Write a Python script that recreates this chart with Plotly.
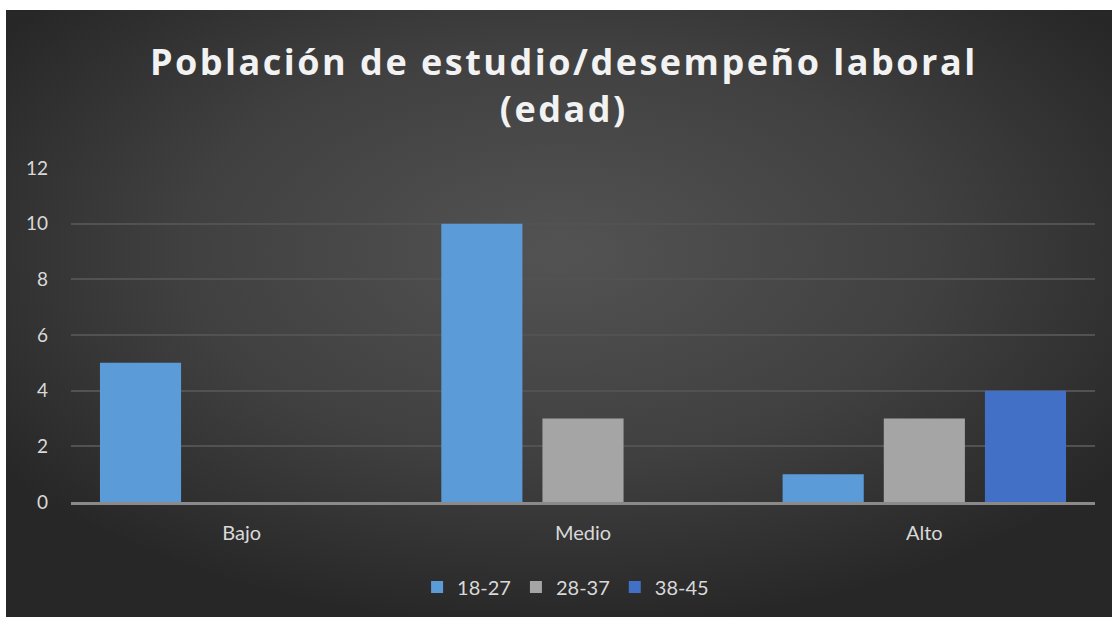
import base64
import plotly.graph_objects as go

categories = ["Bajo", "Medio", "Alto"]
series_names = ["18-27", "28-37", "38-45"]
values_18_27 = [5, 10, 1]
values_28_37 = [0, 3, 3]
values_38_45 = [0, 0, 4]
y_ticks = [0, 2, 4, 6, 8, 10, 12]

colors = ["#5b9bd8", "#a5a5a5", "#4270c6"]
series_values = [values_18_27, values_28_37, values_38_45]

W, H = 1112, 617
L, R, T, B = 71, 17, 168, 115
pw, ph = W - L - R, H - T - B

svg = f'''<svg xmlns="http://www.w3.org/2000/svg" width="1106" height="607" viewBox="0 0 1106 607" preserveAspectRatio="none">
<defs><radialGradient id="g" cx="0.5" cy="0.4" r="0.62" gradientUnits="objectBoundingBox">
<stop offset="0" stop-color="#535353"/><stop offset="0.55" stop-color="#404040"/><stop offset="1" stop-color="#272727"/></radialGradient></defs>
<rect width="1106" height="607" fill="url(#g)"/></svg>'''
src = "data:image/svg+xml;base64," + base64.b64encode(svg.encode()).decode()

fig = go.Figure()
for name, vals, col in zip(series_names, series_values, colors):
    fig.add_trace(go.Bar(x=categories, y=vals, name=name, marker=dict(color=col, line=dict(width=0))))

fig.update_layout(
    width=W, height=H, autosize=False,
    margin=dict(l=L, r=R, t=T, b=B, autoexpand=False),
    paper_bgcolor="white",
    plot_bgcolor="rgba(0,0,0,0)",
    barmode="group",
    bargap=0.111,
    bargroupgap=0.198,
    font=dict(family="Lato, Open Sans, sans-serif", color="#d9d9d9", size=19),
    title=dict(
        text="<b>Población de estudio/desempeño laboral<br>(edad)</b>",
        x=0.507, xref="container", xanchor="center",
        y=1 - 75 / H, yref="container", yanchor="top",
        font=dict(family="Open Sans, Lato, sans-serif", size=36, color="#f2f2f2"),
    ),
    images=[dict(
        source=src, xref="paper", yref="paper",
        x=(6 - L) / pw, y=(H - B - 10) / ph,
        sizex=1106 / pw, sizey=607 / ph,
        xanchor="left", yanchor="top", sizing="stretch", layer="below",
    )],
    legend=dict(
        orientation="h", x=0.483, xanchor="center", y=-0.196, yanchor="top",
        font=dict(size=20, color="#d9d9d9"), bgcolor="rgba(0,0,0,0)",
        itemwidth=30, traceorder="normal",
    ),
    showlegend=True,
    hovermode=False,
)
fig.update_yaxes(
    range=[0, 12], tickvals=y_ticks, showgrid=True, gridcolor="#525252", gridwidth=1.5,
    zeroline=False, showline=False, ticks="", ticklabelstandoff=22,
    tickfont=dict(size=19, color="#d9d9d9"), automargin=False,
)
fig.update_xaxes(
    showgrid=False, showline=True, linecolor="#8a8a8a", linewidth=2.5,
    ticks="", tickfont=dict(size=20, color="#d9d9d9"), ticklabelstandoff=11, automargin=False,
)

post = """
document.body.style.margin='0px';
document.querySelectorAll('.gtitle').forEach(function(e){e.style.letterSpacing='2.5px';});
"""
fig.write_html("out.html", post_script=post, config={"displayModeBar": False})
